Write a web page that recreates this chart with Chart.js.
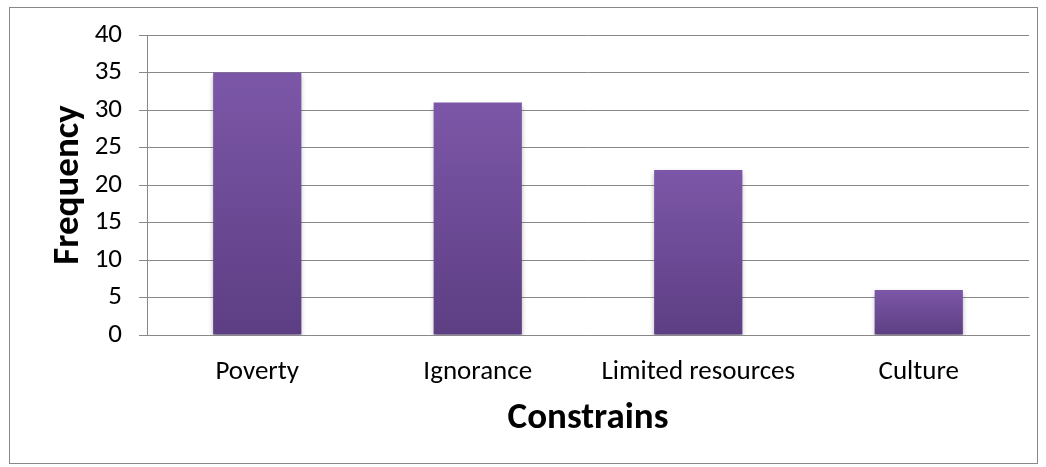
<!DOCTYPE html>
<html>
<head>
  <script src="https://cdn.jsdelivr.net/npm/chart.js"></script>
  <style>
    html, body { margin: 0; padding: 0; background: #fff; }
    #wrap { position: absolute; left: 0; top: 0; width: 1046px; height: 467px; }
  </style>
</head>
<body>
  <div id="wrap">
    <canvas id="barChart" width="1046" height="467"></canvas>
  </div>
<script>
  // data
  var categories = ['Poverty', 'Ignorance', 'Limited resources', 'Culture'];
  var frequency = [35, 31, 22, 6];
  var yTicks = [0, 5, 10, 15, 20, 25, 30, 35, 40];

  var FONT = "Carlito, Calibri, 'Open Sans', sans-serif";
  var GRID = '#888888';

  // vertical gradient per bar, from its top down to zero
  function barFill(context) {
    var chart = context.chart;
    var y = chart.scales && chart.scales.y;
    if (!y || !chart.chartArea) return '#6a4894';
    var v = context.raw;
    var top = y.getPixelForValue(v);
    var bottom = y.getPixelForValue(0);
    if (!isFinite(top) || top === bottom) return '#6a4894';
    var g = chart.ctx.createLinearGradient(0, top, 0, bottom);
    g.addColorStop(0, '#7c57a8');
    g.addColorStop(1, '#5d3e83');
    return g;
  }

  // outer frame + soft bar shadow
  var framePlugin = {
    id: 'frame',
    beforeDraw: function(chart) {
      var c = chart.ctx;
      c.save();
      c.strokeStyle = '#888888';
      c.lineWidth = 1;
      c.strokeRect(9.5, 7.5, 1028, 456);
      c.restore();
    },
    beforeDatasetsDraw: function(chart) {
      var c = chart.ctx;
      c.save();
      c.shadowColor = 'rgba(0,0,0,0.35)';
      c.shadowBlur = 5;
      c.shadowOffsetX = 0;
      c.shadowOffsetY = 3;
    },
    afterDatasetsDraw: function(chart) {
      chart.ctx.restore();
    }
  };

  var ctx = document.getElementById('barChart').getContext('2d');

  var chart = new Chart(ctx, {
    type: 'bar',
    data: {
      labels: categories,
      datasets: [{
        label: 'Frequency',
        data: frequency,
        backgroundColor: barFill,
        borderWidth: 0,
        categoryPercentage: 1.0,
        barPercentage: 0.4
      }]
    },
    options: {
      responsive: false,
      animation: false,
      layout: {
        padding: { left: 47, right: 17, top: 35, bottom: 26 }
      },
      plugins: {
        legend: { display: false },
        tooltip: { enabled: false }
      },
      scales: {
        x: {
          grid: { display: false, drawTicks: false },
          border: { display: true, color: GRID, width: 1 },
          ticks: {
            color: '#000',
            padding: 21,
            font: { family: FONT, size: 27 }
          },
          title: {
            display: true,
            text: 'Constrains',
            color: '#000',
            padding: { top: 0, bottom: 0 },
            font: { family: FONT, size: 37, weight: 'bold' }
          },
          afterFit: function(scale) { scale.height = 106; }
        },
        y: {
          min: 0,
          max: 40,
          afterBuildTicks: function(scale) {
            scale.ticks = yTicks.map(function(v) { return { value: v }; });
          },
          grid: {
            color: GRID,
            lineWidth: 1,
            drawTicks: true,
            tickLength: 8
          },
          border: { display: true, color: GRID, width: 1 },
          ticks: {
            color: '#000',
            padding: 17,
            font: { family: FONT, size: 27 }
          },
          title: {
            display: true,
            text: 'Frequency',
            color: '#000',
            padding: { top: 0, bottom: 0 },
            font: { family: FONT, size: 37, weight: 'bold' }
          },
          afterFit: function(scale) { scale.width = 100; }
        }
      }
    },
    plugins: [framePlugin]
  });
</script>
</body>
</html>
